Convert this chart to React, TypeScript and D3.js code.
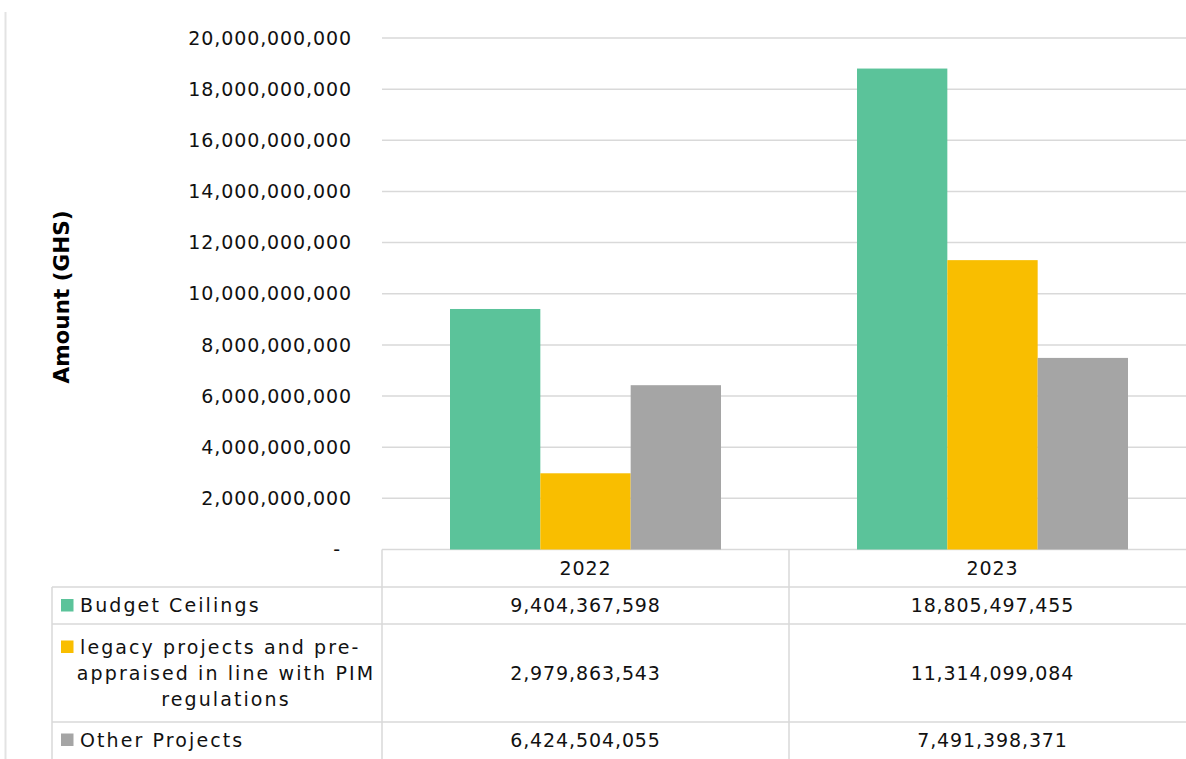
import React from "react";
import * as d3 from "d3";

const years = ["2022", "2023"];
const seriesNames = [
  "Budget Ceilings",
  "legacy projects and pre-appraised in line with PIM regulations",
  "Other Projects",
];
const seriesLabelLines = [
  ["Budget Ceilings"],
  ["legacy projects and pre-", "appraised in line with PIM", "regulations"],
  ["Other Projects"],
];
const budgetCeilings = [9404367598, 18805497455];
const legacyProjects = [2979863543, 11314099084];
const otherProjects = [6424504055, 7491398371];
const colors = ["#5BC39A", "#F9BE00", "#A5A5A5"];
const yTicks = [0, 2e9, 4e9, 6e9, 8e9, 10e9, 12e9, 14e9, 16e9, 18e9, 20e9];

const W = 1186;
const H = 759;
const FONT = "'DejaVu Sans', 'Lato', sans-serif";
const GRID = "#d9d9d9";
const FS = 19;
const LS = 0.9;
const LABEL_LS = 2.1;

export default function App() {
  const values = [budgetCeilings, legacyProjects, otherProjects];
  const y = d3.scaleLinear().domain([0, 20e9]).range([549.5, 38]);
  const x = d3.scaleBand<string>().domain(years).range([382, 1196]).padding(0);
  const inner = d3
    .scaleBand<number>()
    .domain([0, 1, 2])
    .range([68, x.bandwidth() - 68])
    .padding(0);
  const fmt = d3.format(",");

  const rowTops = [549.5, 587, 624, 722];
  const rowBottoms = [587, 624, 722, 759];
  const tableLeft = 52;

  const textProps = {
    fontFamily: FONT,
    fontSize: FS,
    letterSpacing: LS,
    fill: "#111",
  };
  const labelProps = { ...textProps, letterSpacing: LABEL_LS };

  return (
    <div style={{ position: "absolute", left: 0, top: 0 }}>
      <svg width={W} height={H} style={{ display: "block", background: "#fff" }}>
        <rect x={0} y={0} width={W} height={H} fill="#fff" />
        <line x1={5.5} x2={5.5} y1={12} y2={H} stroke="#e3e3e3" strokeWidth={2} />

        {yTicks.map((t) => (
          <line key={"g" + t} x1={382} x2={W} y1={y(t)} y2={y(t)} stroke={GRID} strokeWidth={1.5} />
        ))}
        {yTicks.map((t) => (
          <text
            key={"t" + t}
            x={t === 0 ? 341 : 352}
            y={y(t)}
            dy="0.35em"
            textAnchor="end"
            {...textProps}
          >
            {t === 0 ? "-" : fmt(t)}
          </text>
        ))}

        <text
          transform={`translate(69,297) rotate(-90)`}
          textAnchor="middle"
          fontFamily={FONT}
          fontWeight="bold"
          fontSize={21.5}
          fill="#000"
        >
          Amount (GHS)
        </text>

        {years.map((yr, yi) =>
          values.map((vals, si) => (
            <rect
              key={yr + si}
              x={(x(yr) as number) + (inner(si) as number)}
              width={inner.bandwidth()}
              y={y(vals[yi])}
              height={y(0) - y(vals[yi])}
              fill={colors[si]}
            />
          ))
        )}

        {rowTops.slice(1).map((ry, i) => (
          <line key={"h" + i} x1={tableLeft} x2={W} y1={ry} y2={ry} stroke={GRID} strokeWidth={1.5} />
        ))}
        <line x1={tableLeft} x2={tableLeft} y1={587} y2={H} stroke={GRID} strokeWidth={1.5} />
        {years.map((yr) => (
          <line
            key={"v" + yr}
            x1={x(yr)}
            x2={x(yr)}
            y1={549.5}
            y2={H}
            stroke={GRID}
            strokeWidth={1.5}
          />
        ))}

        {years.map((yr) => (
          <text
            key={"hd" + yr}
            x={(x(yr) as number) + x.bandwidth() / 2}
            y={(rowTops[0] + rowBottoms[0]) / 2}
            dy="0.35em"
            textAnchor="middle"
            {...textProps}
          >
            {yr}
          </text>
        ))}

        {seriesNames.map((name, si) => {
          const cy = si === 2 ? 740 : (rowTops[si + 1] + rowBottoms[si + 1]) / 2;
          const lines = seriesLabelLines[si];
          const lh = 26;
          const firstY = cy - ((lines.length - 1) * lh) / 2;
          return (
            <g key={name}>
              <rect x={61} y={firstY - 6.5} width={12.5} height={12.5} fill={colors[si]} />
              {lines.length === 1 ? (
                <text x={80} y={cy} dy="0.35em" {...labelProps}>
                  {lines[0]}
                </text>
              ) : (
                lines.map((ln, li) => (
                  <text
                    key={li}
                    x={li === 0 ? 80 : 226}
                    y={firstY + li * lh}
                    dy="0.35em"
                    textAnchor={li === 0 ? "start" : "middle"}
                    {...labelProps}
                  >
                    {ln}
                  </text>
                ))
              )}
              {years.map((yr, yi) => (
                <text
                  key={"val" + yr}
                  x={(x(yr) as number) + x.bandwidth() / 2}
                  y={cy}
                  dy="0.35em"
                  textAnchor="middle"
                  {...textProps}
                >
                  {fmt(values[si][yi])}
                </text>
              ))}
            </g>
          );
        })}
      </svg>
    </div>
  );
}
